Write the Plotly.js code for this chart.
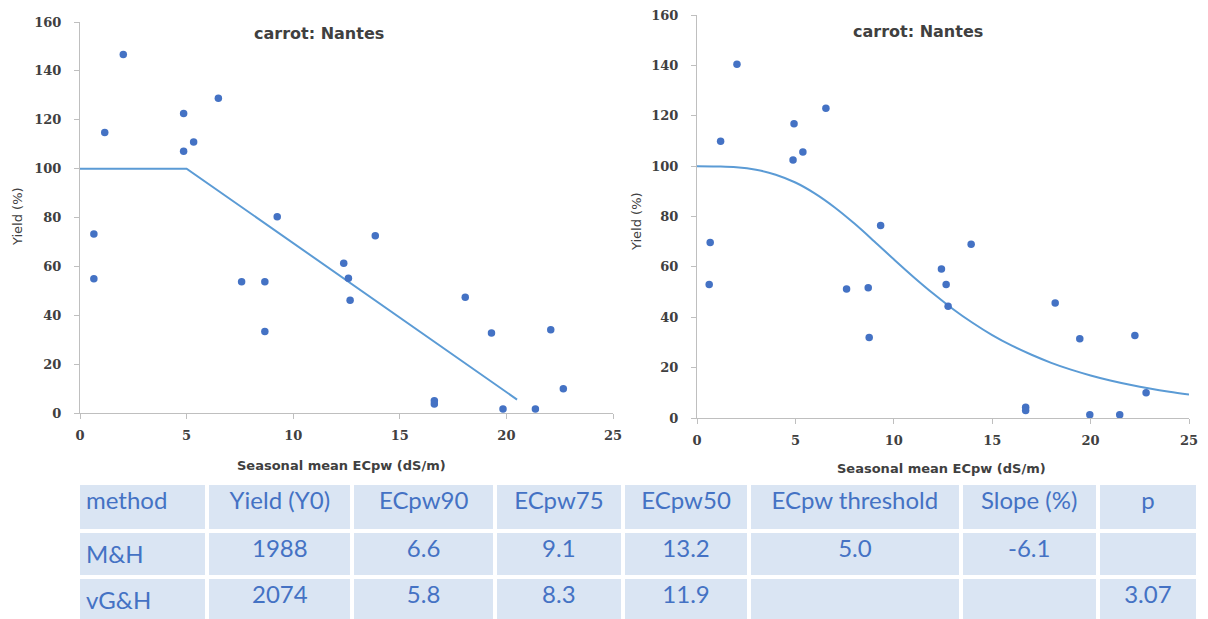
<!DOCTYPE html>
<html>
<head>
<meta charset="utf-8">
<script src="https://cdn.plot.ly/plotly-3.0.1.min.js"></script>
<style>
html,body{margin:0;padding:0;overflow:hidden;background:#fff;}
#chart{width:1208px;height:650px;}
</style>
</head>
<body>
<div id="chart"></div>
<script>
// ---- Data: left chart (M&H) ----
const ecLeft = [0.65, 0.65, 1.16, 2.03, 4.86, 4.86, 5.33, 6.49, 7.58, 8.67, 8.67, 9.25, 12.37, 12.59, 12.67, 13.85, 16.62, 16.62, 18.07, 19.3, 19.84, 21.36, 22.08, 22.67];
const yieldLeft = [73.2, 54.9, 114.8, 146.7, 122.6, 107.1, 110.9, 128.8, 53.7, 53.7, 33.4, 80.3, 61.3, 55.1, 46.1, 72.5, 5.0, 3.7, 47.4, 32.7, 1.6, 1.6, 34.1, 9.9];
const mhLineX = [0, 5.0, 20.5];
const mhLineY = [100, 100, 5.5];

// ---- Data: right chart (vG&H) ----
const ecRight = [0.62, 0.67, 1.2, 2.03, 4.93, 4.88, 5.38, 6.55, 7.6, 8.7, 8.75, 9.33, 12.42, 12.66, 12.76, 13.93, 16.7, 16.7, 18.2, 19.45, 19.96, 21.48, 22.25, 22.82];
const yieldRight = [53.0, 69.7, 109.9, 140.4, 116.8, 102.4, 105.6, 123.0, 51.2, 51.7, 32.0, 76.4, 59.2, 53.0, 44.4, 69.0, 4.3, 3.0, 45.7, 31.5, 1.3, 1.3, 32.8, 10.0];
const vgCurveX = [0,1,2,3,4,5,6,7,8,9,10,11,12,13,14,15,16,17,18,19,20,21,22,23,24,25];
const vgCurveY = [100,99.9,99.6,98.6,96.6,93.5,89.1,83.6,77.2,70.2,63.0,56.0,49.4,43.3,37.8,32.9,28.7,25.1,21.9,19.2,16.9,14.9,13.2,11.7,10.4,9.3];

// ---- Data: table ----
const tableHeader = ["method", "Yield (Y0)", "ECpw90", "ECpw75", "ECpw50", "ECpw threshold", "Slope (%)", "p"];
const methods = ["M&H", "vG&H"];
const yieldY0 = ["1988", "2074"];
const ecpw90 = ["6.6", "5.8"];
const ecpw75 = ["9.1", "8.3"];
const ecpw50 = ["13.2", "11.9"];
const ecpwThreshold = ["5.0", ""];
const slopePct = ["-6.1", ""];
const pParam = ["", "3.07"];

const chartTitle = "carrot: Nantes";
const xTitle = "Seasonal mean ECpw (dS/m)";
const yTitle = "Yield (%)";

const W = 1208, H = 650;
const px = x => x / W;
const py = y => 1 - y / H;

const markerColor = '#4472c4';
const lineColor = '#5b9bd5';
const axisColor = '#bfbfbf';
const tickFont = {family: 'DejaVu Serif', size: 13, color: '#404040', weight: 'bold'};
const tableFont = {family: 'Lato', size: 24, color: '#4472c4'};

const traces = [
  {x: mhLineX, y: mhLineY, type: 'scatter', mode: 'lines', line: {color: lineColor, width: 2}, xaxis: 'x', yaxis: 'y', hoverinfo: 'skip'},
  {x: ecLeft, y: yieldLeft, type: 'scatter', mode: 'markers', marker: {color: markerColor, size: 7.5}, xaxis: 'x', yaxis: 'y'},
  {x: vgCurveX, y: vgCurveY, type: 'scatter', mode: 'lines', line: {color: lineColor, width: 2, shape: 'spline'}, xaxis: 'x2', yaxis: 'y2', hoverinfo: 'skip'},
  {x: ecRight, y: yieldRight, type: 'scatter', mode: 'markers', marker: {color: markerColor, size: 7.5}, xaxis: 'x2', yaxis: 'y2'},
  {
    type: 'table',
    domain: {x: [px(78), px(1198)], y: [0, py(483)]},
    columnwidth: [129, 145, 142, 128, 126, 211, 137, 100],
    header: {
      values: tableHeader,
      align: ['left', 'center', 'center', 'center', 'center', 'center', 'center', 'center'],
      fill: {color: '#dae5f3'},
      line: {color: '#ffffff', width: 4},
      font: tableFont,
      height: 48
    },
    cells: {
      values: [methods, yieldY0, ecpw90, ecpw75, ecpw50, ecpwThreshold, slopePct, pParam],
      align: ['left', 'center', 'center', 'center', 'center', 'center', 'center', 'center'],
      fill: {color: '#dae5f3'},
      line: {color: '#ffffff', width: 4},
      font: tableFont,
      height: 46
    }
  }
];

function xAxis(domain, anchor) {
  return {
    domain: domain, anchor: anchor, range: [0, 25], tickvals: [0,5,10,15,20,25],
    showgrid: false, zeroline: false, showline: true, linecolor: axisColor, linewidth: 1,
    ticks: 'outside', ticklen: 5, tickcolor: axisColor, tickfont: tickFont, ticklabelstandoff: 5,
    fixedrange: true
  };
}
function yAxis(domain, anchor) {
  return {
    domain: domain, anchor: anchor, range: [0, 160], tickvals: [0,20,40,60,80,100,120,140,160],
    showgrid: false, zeroline: false, showline: true, linecolor: axisColor, linewidth: 1,
    ticks: 'outside', ticklen: 5, tickcolor: axisColor, tickfont: tickFont, ticklabelstandoff: 10,
    fixedrange: true
  };
}

const titleFont = {family: 'DejaVu Sans', size: 16, color: '#404040', weight: 'bold'};
const axTitleFont = {family: 'DejaVu Sans', size: 13, color: '#404040', weight: 'bold'};
const yTitleFont = {family: 'DejaVu Sans', size: 13, color: '#404040'};

const layout = {
  width: W, height: H,
  margin: {l: 0, r: 0, t: 0, b: 0},
  paper_bgcolor: '#ffffff', plot_bgcolor: '#ffffff',
  showlegend: false,
  xaxis: xAxis([px(80), px(613)], 'y'),
  yaxis: yAxis([py(413), py(22)], 'x'),
  xaxis2: xAxis([px(697), px(1189)], 'y2'),
  yaxis2: yAxis([py(418), py(15)], 'x2'),
  annotations: [
    {text: chartTitle, x: px(319), y: py(34), xref: 'paper', yref: 'paper', showarrow: false, font: titleFont, xanchor: 'center', yanchor: 'middle'},
    {text: chartTitle, x: px(918), y: py(31), xref: 'paper', yref: 'paper', showarrow: false, font: titleFont, xanchor: 'center', yanchor: 'middle'},
    {text: xTitle, x: px(341), y: py(465), xref: 'paper', yref: 'paper', showarrow: false, font: axTitleFont, xanchor: 'center', yanchor: 'middle'},
    {text: xTitle, x: px(941), y: py(468), xref: 'paper', yref: 'paper', showarrow: false, font: axTitleFont, xanchor: 'center', yanchor: 'middle'},
    {text: yTitle, x: px(17), y: py(217), xref: 'paper', yref: 'paper', showarrow: false, font: yTitleFont, textangle: -90, xanchor: 'center', yanchor: 'middle'},
    {text: yTitle, x: px(636), y: py(222), xref: 'paper', yref: 'paper', showarrow: false, font: yTitleFont, textangle: -90, xanchor: 'center', yanchor: 'middle'}
  ]
};

Plotly.newPlot('chart', traces, layout, {displayModeBar: false, staticPlot: true});
</script>
</body>
</html>
